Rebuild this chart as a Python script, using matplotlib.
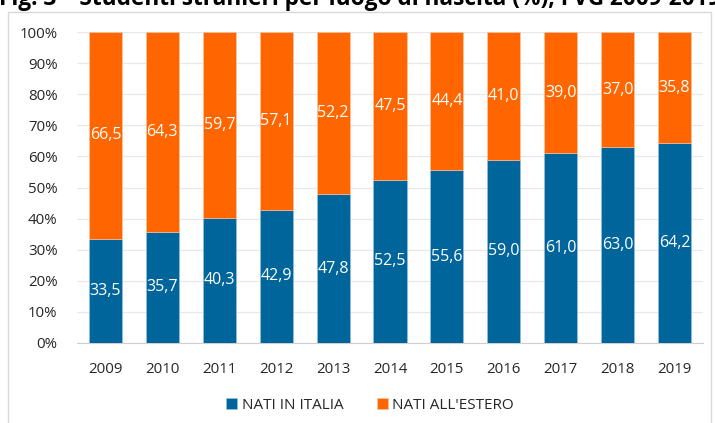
import matplotlib.pyplot as plt
from matplotlib.patches import Rectangle

plt.rcParams['font.family'] = ['Open Sans', 'DejaVu Sans']

anni = ['2009', '2010', '2011', '2012', '2013', '2014', '2015', '2016', '2017', '2018', '2019']
nati_italia = [33.5, 35.7, 40.3, 42.9, 47.8, 52.5, 55.6, 59.0, 61.0, 63.0, 64.2]
nati_estero = [66.5, 64.3, 59.7, 57.1, 52.2, 47.5, 44.4, 41.0, 39.0, 37.0, 35.8]
titolo = "Fig. 3 \u2013 Studenti stranieri per luogo di nascita (%), FVG 2009-2019"

blu = '#00659A'
arancio = '#FF6600'

fig = plt.figure(figsize=(7.15, 4.23), dpi=100)
ax = fig.add_axes([77 / 715, 1 - 343 / 423, 626 / 715, 311 / 423])

# frame around chart area
fig.patches.append(Rectangle((8 / 715, -0.01), 703 / 715, 1 - 12 / 423 + 0.01,
                             transform=fig.transFigure, fill=False,
                             edgecolor='#D9D9D9', linewidth=1))

# title, cut off at the top as in the source
fig.text(-0.002, 1 - 5 / 423, titolo, fontsize=16.3, fontweight='bold',
         va='baseline', ha='left', color='black')

x = range(len(anni))
b1 = ax.bar(x, nati_italia, width=0.58, color=blu, edgecolor='#9DC3E6',
            linewidth=0.4, label='NATI IN ITALIA', zorder=3)
b2 = ax.bar(x, nati_estero, width=0.58, bottom=nati_italia, color=arancio,
            edgecolor='#F8CBAD', linewidth=0.4, label="NATI ALL'ESTERO", zorder=3)

for bars in (b1, b2):
    ax.bar_label(bars, labels=[f"{v:.1f}".replace('.', ',') for v in bars.datavalues],
                 label_type='center', color='white', fontsize=11.5)

ax.set_xlim(-0.5, len(anni) - 0.5)
ax.set_ylim(0, 100)
ax.set_yticks(range(0, 101, 10))
ax.set_yticklabels([f"{v}%" for v in range(0, 101, 10)])
ax.set_xticks(list(x))
ax.set_xticklabels(anni)
ax.tick_params(axis='both', length=0, labelsize=10.8, colors='#262626')
ax.tick_params(axis='x', pad=14)
ax.tick_params(axis='y', pad=14)
ax.grid(axis='y', color='#E8E8E8', linewidth=0.9, zorder=0)
for s in ['top', 'right', 'left']:
    ax.spines[s].set_visible(False)
ax.spines['bottom'].set_color('#D0D0D0')

fig.legend(handles=[b1, b2], loc='center', bbox_to_anchor=(370 / 715, 1 - 405 / 423),
           ncol=2, frameon=False, fontsize=11, handlelength=0.7, handleheight=0.7,
           handletextpad=0.3, columnspacing=2.2, labelcolor='#262626')

fig.savefig('out.png', dpi=100)
